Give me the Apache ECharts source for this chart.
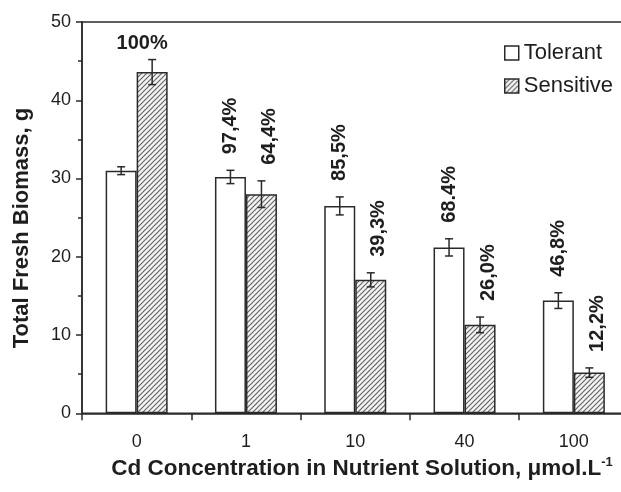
<!DOCTYPE html>
<html><head><meta charset="utf-8">
<script src="https://cdn.jsdelivr.net/npm/echarts@6/dist/echarts.min.js"></script>
<style>html,body{margin:0;padding:0;background:#fff}#c{width:621px;height:492px}</style>
</head><body><div id="c"></div>
<script>
const categories = ['0', '1', '10', '40', '100'];
const tolerantValues = [31.0, 30.2, 26.5, 21.2, 14.4];
const tolerantErrors = [0.5, 0.85, 1.15, 1.1, 1.0];
const sensitiveValues = [43.6, 28.0, 17.05, 11.3, 5.2];
const sensitiveErrors = [1.6, 1.7, 0.9, 1.0, 0.6];
const tolerantLabels = ['', '97,4%', '85,5%', '68.4%', '46,8%'];
const sensitiveLabels = ['100%', '64,4%', '39,3%', '26,0%', '12,2%'];
const yMin = 0, yMax = 50, yInterval = 10;

const FONT = '"Liberation Sans", Arial, Helvetica, sans-serif';
const INK = '#1e1e1e';

// hatch pattern
const pc = document.createElement('canvas');
pc.width = 5; pc.height = 5;
const g = pc.getContext('2d');
g.fillStyle = '#f4f4f4'; g.fillRect(0, 0, 5, 5);
g.strokeStyle = '#666'; g.lineWidth = 1.2;
g.beginPath();
g.moveTo(0, 5); g.lineTo(5, 0);
g.moveTo(-1, 1); g.lineTo(1, -1);
g.moveTo(4, 6); g.lineTo(6, 4);
g.stroke();
const hatch = { image: pc, repeat: 'repeat' };

const BAR_W = 31;

function errSeries(name, values, errors, labels, offset, isSens) {
  return {
    type: 'custom',
    name: name,
    data: values.map((v, i) => [i, v, errors[i]]),
    encode: { x: 0, y: 1 },
    z: 10,
    silent: true,
    renderItem: function (params, api) {
      const i = api.value(0), v = api.value(1), e = api.value(2);
      const c = api.coord([i, v]);
      const x = c[0] + offset;
      const yTop = api.coord([i, v + e])[1];
      const yBot = api.coord([i, v - e])[1];
      const cap = 4;
      const st = { stroke: '#2a2a2a', lineWidth: 1.5 };
      const children = [
        { type: 'line', shape: { x1: x, y1: yTop, x2: x, y2: yBot }, style: st },
        { type: 'line', shape: { x1: x - cap, y1: yTop, x2: x + cap, y2: yTop }, style: st },
        { type: 'line', shape: { x1: x - cap, y1: yBot, x2: x + cap, y2: yBot }, style: st }
      ];
      const lab = labels[i];
      if (lab) {
        if (isSens && i === 0) {
          children.push({
            type: 'text', x: x - 10, y: yTop - 6,
            style: { text: lab, fill: INK, fontSize: 20, fontWeight: 'bold', fontFamily: FONT,
                     align: 'center', verticalAlign: 'bottom' }
          });
        } else {
          children.push({
            type: 'text', x: x + (isSens ? 8 : 0), y: yTop - 16, rotation: Math.PI / 2,
            style: { text: lab, fill: INK, fontSize: 20, fontWeight: 'bold', fontFamily: FONT,
                     align: 'left', verticalAlign: 'middle' }
          });
        }
      }
      return { type: 'group', children: children };
    }
  };
}

const chart = echarts.init(document.getElementById('c'));
chart.setOption({
  backgroundColor: '#fff',
  animation: false,
  textStyle: { fontFamily: FONT },
  grid: { left: 82, top: 22, right: -7.5, bottom: 78.7, show: true, borderColor: '#2a2a2a', borderWidth: 1.5,
          backgroundColor: 'transparent', outerBoundsMode: 'none' },
  legend: {
    data: ['Tolerant', 'Sensitive'],
    orient: 'vertical', left: 499, top: 37, itemGap: 11,
    icon: 'rect', itemWidth: 14, itemHeight: 14,
    itemStyle: { borderColor: '#2a2a2a', borderWidth: 1.5 },
    textStyle: { fontSize: 22, color: INK, fontFamily: FONT, lineHeight: 22 }
  },
  xAxis: {
    type: 'category', data: categories,
    axisLine: { lineStyle: { color: '#2a2a2a', width: 1.5 } },
    axisTick: { show: true, length: 7, interval: 0, alignWithLabel: false, lineStyle: { color: '#2a2a2a', width: 1.5 } },
    axisLabel: { fontSize: 18, color: INK, margin: 20, fontFamily: FONT },
    splitLine: { show: false }
  },
  yAxis: {
    type: 'value', min: yMin, max: yMax, interval: yInterval,
    axisLine: { show: true, lineStyle: { color: '#2a2a2a', width: 1.5 } },
    axisTick: { show: true, length: 6, lineStyle: { color: '#2a2a2a', width: 1.5 } },
    minorTick: { show: true, splitNumber: 2, length: 4, lineStyle: { color: '#2a2a2a', width: 1.5 } },
    axisLabel: { fontSize: 18, color: INK, margin: 11, fontFamily: FONT },
    splitLine: { show: false }
  },
  graphic: [
    {
      type: 'text', x: 362, y: 468,
      style: {
        text: '{m|Cd Concentration in Nutrient Solution, μmol.L}{s|-1}',
        rich: {
          m: { fontSize: 22.5, fontWeight: 'bold', fill: INK, fontFamily: FONT, verticalAlign: 'bottom' },
          s: { fontSize: 13, fontWeight: 'bold', fill: INK, fontFamily: FONT, verticalAlign: 'top', padding: [0, 0, 12, 0] }
        },
        align: 'center', verticalAlign: 'middle'
      }
    },
    {
      type: 'text', x: 22, y: 228, rotation: Math.PI / 2,
      style: { text: 'Total Fresh Biomass, g', fontSize: 22, fontWeight: 'bold', fill: INK, fontFamily: FONT,
               align: 'center', verticalAlign: 'middle' }
    }
  ],
  series: [
    { name: 'Tolerant', type: 'bar', data: tolerantValues, barWidth: BAR_W, barGap: '0%',
      itemStyle: { color: '#fff', borderColor: '#2a2a2a', borderWidth: 1.5 } },
    { name: 'Sensitive', type: 'bar', data: sensitiveValues, barWidth: BAR_W, barGap: '0%',
      itemStyle: { color: hatch, borderColor: '#2a2a2a', borderWidth: 1.5 } },
    errSeries('TolErr', tolerantValues, tolerantErrors, tolerantLabels, -BAR_W / 2, false),
    errSeries('SensErr', sensitiveValues, sensitiveErrors, sensitiveLabels, BAR_W / 2, true)
  ]
});
</script></body></html>
